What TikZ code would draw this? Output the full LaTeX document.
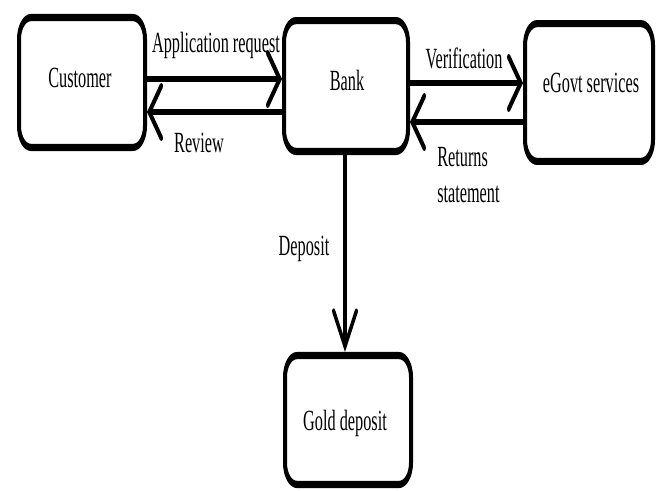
\documentclass[tikz,border=0pt]{standalone}
\usepackage{fontspec}
\setmainfont{Liberation Serif}
\usetikzlibrary{arrows.meta}
\begin{document}
\begin{tikzpicture}[x=0.75pt,y=-0.75pt]
\fill[white] (0,0) rectangle (659,490);
\useasboundingbox (0,0) rectangle (659,490);
\begin{scope}[transform canvas={yscale=1.8}, y=-0.416667pt,
  box/.style={draw, line width=3pt, rounded corners=9pt, inner sep=0pt},
  lbl/.style={inner sep=0pt, font=\fontsize{12.2pt}{15pt}\selectfont},
  flow/.style={line width=2.6pt, line cap=butt, -{Straight Barb[length=9pt,width=21.6pt,line cap=round]}},
  dflow/.style={line width=2.4pt, -{Straight Barb[length=14.6pt,width=17pt,line cap=round]}}]
  \node[box, minimum width=94.5pt, minimum height=54.1pt] (cust) at (82,82.5) {};
  \node[box, minimum width=93pt, minimum height=54.5pt] (bank) at (346,86) {};
  \node[box, minimum width=96pt, minimum height=57.4pt] (egov) at (589,92.5) {};
  \node[box, minimum width=94.5pt, minimum height=53.7pt] (gold) at (348,420) {};
  \node[lbl, anchor=base] (custt) at (80,87) {Customer};
  \node[lbl, anchor=base] (bankt) at (347,90) {Bank};
  \node[lbl, anchor=base] (egovt) at (591,92) {eGovt services};
  \node[lbl, anchor=base] (goldt) at (345,430) {Gold deposit};
  \draw[flow] (cust.east |- 0,79) -- (bank.west |- 0,79);
  \draw[flow] (bank.west |- 0,112) -- (cust.east |- 0,112);
  \draw[flow] (bank.east |- 0,83) -- (egov.west |- 0,83);
  \draw[flow] (egov.west |- 0,122) -- (bank.east |- 0,122);
  \draw[dflow] (bank.south -| 345,0) -- (gold.north -| 345,0);
  \node[lbl, anchor=base] (appl) at (216,52) {Application request};
  \node[lbl, anchor=base] (revl) at (199,152) {Review};
  \node[lbl, anchor=base] (verl) at (464,68) {Verification};
  \node[lbl, anchor=north west, align=left] (retl) at (437,147) {Returns\\statement};
  \node[lbl, anchor=base] (depl) at (304,255) {Deposit};
\end{scope}
\end{tikzpicture}
\end{document}
